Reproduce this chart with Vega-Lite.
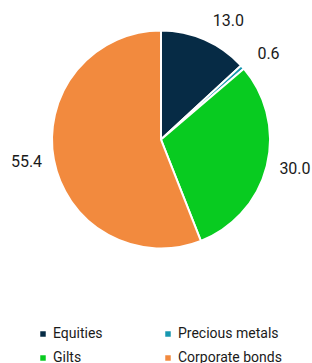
{
  "$schema": "https://vega.github.io/schema/vega-lite/v6.json",
  "width": 302,
  "height": 279,
  "autosize": "none",
  "padding": {"left": 10, "top": 0, "right": 0, "bottom": 84},
  "background": "white",
  "config": {"view": {"stroke": null}, "font": "Roboto"},
  "data": {"values": [
    {"category": "Equities", "value": 13.0, "rank": 1},
    {"category": "Precious metals", "value": 0.6, "rank": 2},
    {"category": "Gilts", "value": 30.0, "rank": 3},
    {"category": "Corporate bonds", "value": 55.4, "rank": 4}
  ]},
  "encoding": {
    "theta": {"field": "value", "type": "quantitative", "stack": true},
    "order": {"field": "rank", "type": "quantitative"},
    "color": {
      "field": "category", "type": "nominal",
      "scale": {"domain": ["Equities", "Precious metals", "Gilts", "Corporate bonds"],
                "range": ["#062b45", "#1797b0", "#08cb20", "#f28a3e"]},
      "legend": {
        "title": null, "orient": "none", "legendX": 26, "legendY": 327,
        "columns": 2, "direction": "horizontal", "padding": 0,
        "symbolType": "square", "symbolSize": 30, "symbolStrokeWidth": 0,
        "labelFontSize": 14, "labelFont": "Roboto", "labelColor": "#1a1a1a",
        "labelOffset": 3, "columnPadding": 58, "rowPadding": 10
      }
    }
  },
  "layer": [
    {"mark": {"type": "arc", "outerRadius": 109, "stroke": "white", "strokeWidth": 2}},
    {
      "mark": {"type": "text", "radius": 129, "align": "left", "baseline": "middle", "fontSize": 16},
      "encoding": {
        "text": {"condition": {"test": "datum.category == 'Corporate bonds' || datum.category == 'Gilts'", "value": ""}, "field": "value", "type": "quantitative", "format": ".1f"},
        "color": {"value": "#1a1a1a"}
      }
    },
    {
      "mark": {"type": "text", "radius": 122, "align": "left", "baseline": "middle", "fontSize": 16},
      "encoding": {
        "text": {"condition": {"test": "datum.category != 'Gilts'", "value": ""}, "field": "value", "type": "quantitative", "format": ".1f"},
        "color": {"value": "#1a1a1a"}
      }
    },
    {
      "mark": {"type": "text", "radius": 121, "align": "right", "baseline": "middle", "fontSize": 16},
      "encoding": {
        "text": {"condition": {"test": "datum.category != 'Corporate bonds'", "value": ""}, "field": "value", "type": "quantitative", "format": ".1f"},
        "color": {"value": "#1a1a1a"}
      }
    }
  ]
}
